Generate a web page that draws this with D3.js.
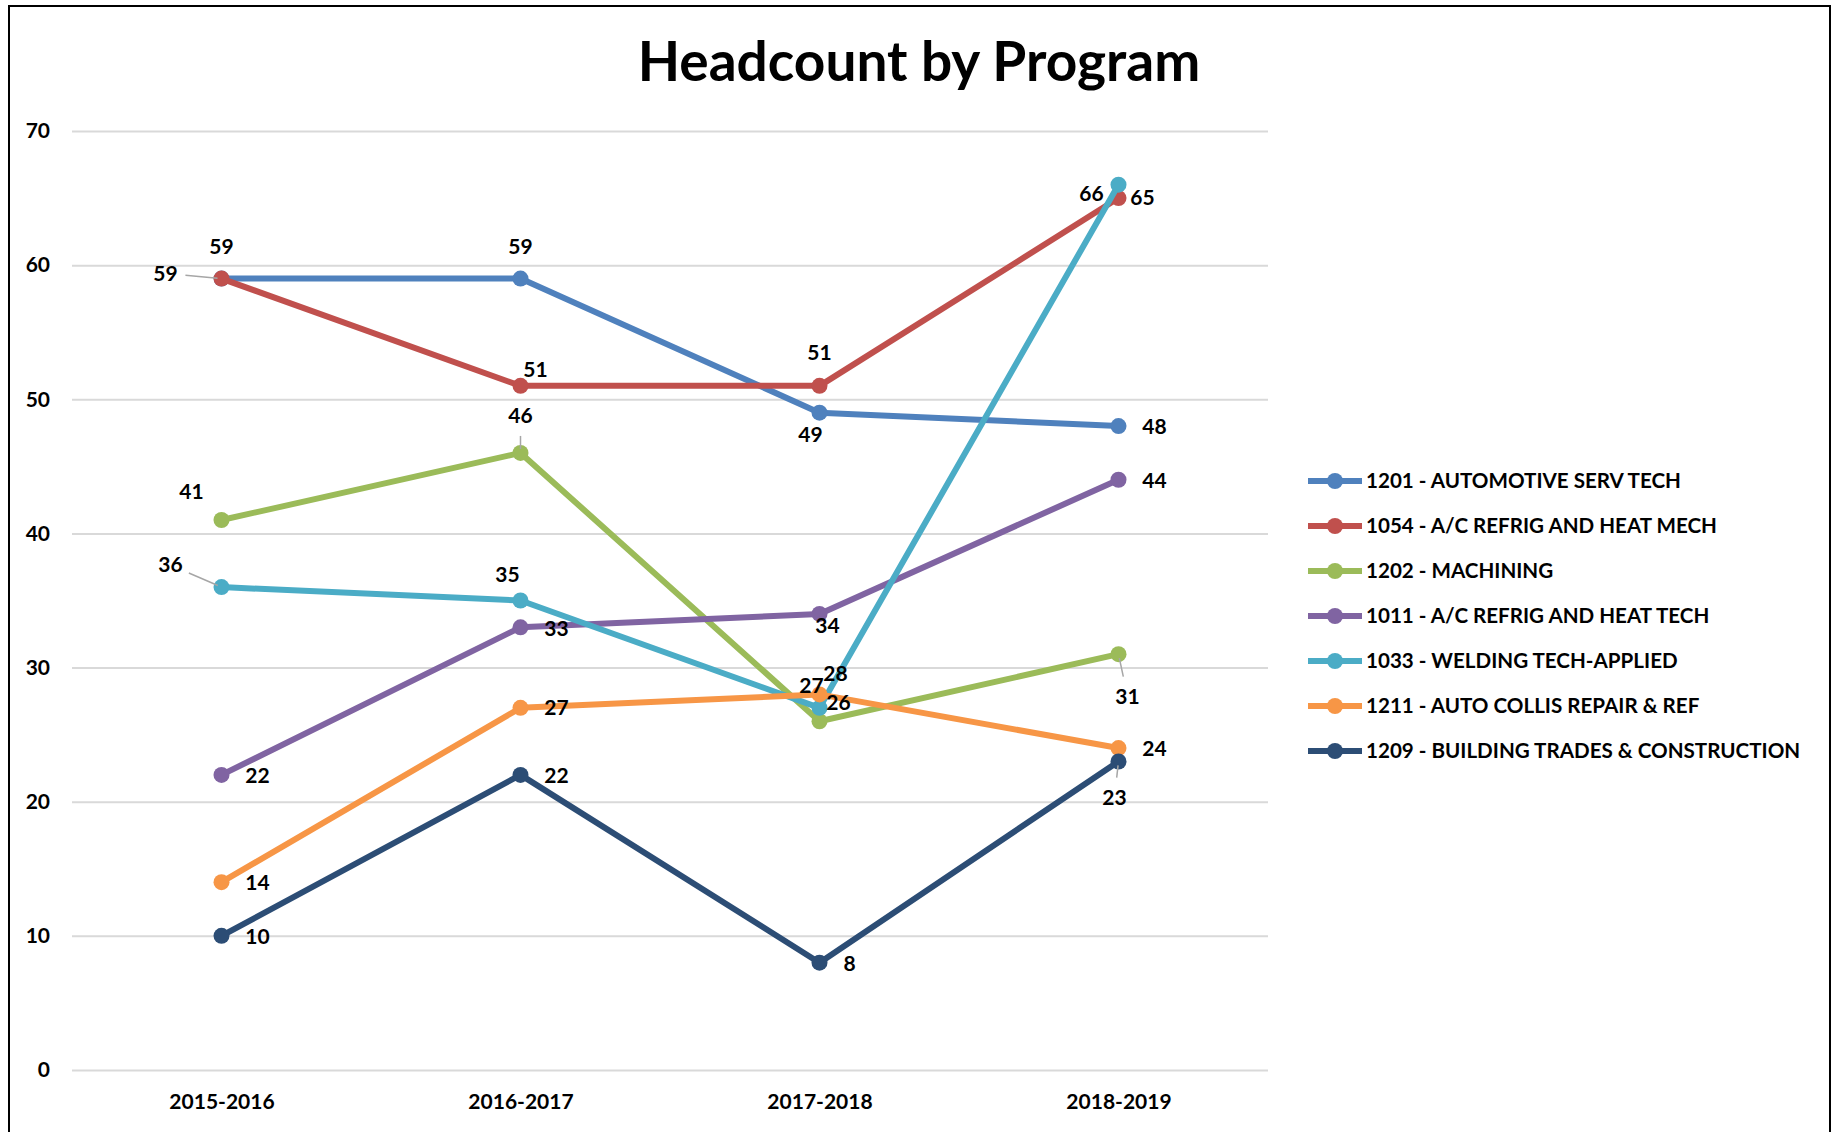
<!DOCTYPE html>
<html>
<head>
<meta charset="utf-8">
<script src="https://cdn.jsdelivr.net/npm/d3@7"></script>
<style>
  body { margin: 0; background: #fff; }
  svg text { font-family: Lato, "Open Sans", sans-serif; font-weight: bold; fill: #000; }
</style>
</head>
<body>
<div id="chart"></div>
<script>
// data
var years = ["2015-2016", "2016-2017", "2017-2018", "2018-2019"];
var programs = [
  "1201 - AUTOMOTIVE SERV TECH",
  "1054 - A/C REFRIG AND HEAT MECH",
  "1202 - MACHINING",
  "1011 - A/C REFRIG AND HEAT TECH",
  "1033 - WELDING TECH-APPLIED",
  "1211 - AUTO COLLIS REPAIR & REF",
  "1209 - BUILDING TRADES & CONSTRUCTION"
];
var automotive = [59, 59, 49, 48];
var acMech     = [59, 51, 51, 65];
var machining  = [41, 46, 26, 31];
var acTech     = [22, 33, 34, 44];
var welding    = [36, 35, 27, 66];
var collision  = [14, 27, 28, 24];
var building   = [10, 22, 8, 23];
var yTicks = [0, 10, 20, 30, 40, 50, 60, 70];

var seriesValues = [automotive, acMech, machining, acTech, welding, collision, building];
var colors = ["#4F81BD", "#C0504D", "#9BBB59", "#8064A2", "#4BACC6", "#F79646", "#2C4D75"];

// label offsets from each point (px), [dx, dy, leader?]
var labelOffsets = [
  [[0, -32], [0, -32], [-9, 22], [36, 1]],
  [[-56, -5, 1], [15, -16], [0, -33], [24, 0]],
  [[-30, -28], [0, -37, 1], [19, -19], [9, 42, 1]],
  [[36, 1], [36, 1], [8, 12], [36, 1]],
  [[-51, -22, 1], [-13, -26], [-8, -22], [-27, 9]],
  [[36, 0], [36, 0], [16, -21], [36, 1]],
  [[36, 1], [36, 1], [30, 1], [-4, 36, 1]]
];

var W = 1833, H = 1132;
var margin = {top: 131, left: 72, right: W - 1268, bottom: H - 1070};
var width = W - margin.left - margin.right;
var height = H - margin.top - margin.bottom;

var svg = d3.select("#chart").append("svg")
  .attr("width", W).attr("height", H);

// frame
svg.append("path")
  .attr("d", "M9," + H + "V6H1830V" + H)
  .attr("fill", "none").attr("stroke", "#000").attr("stroke-width", 2);

// title
svg.append("text")
  .attr("x", 919).attr("y", 81)
  .attr("text-anchor", "middle")
  .style("font-size", "55px")
  .text("Headcount by Program");

var g = svg.append("g").attr("transform", "translate(" + margin.left + "," + margin.top + ")");

var xScale = d3.scalePoint().domain(years).range([0, width]).padding(0.5);
var yScale = d3.scaleLinear().domain([0, 70]).range([height, 0]);

// gridlines + y axis
var yAxis = d3.axisLeft(yScale).tickValues(yTicks).tickSize(-width).tickPadding(22);
g.append("g").attr("class", "y axis").call(yAxis)
  .call(function (a) {
    a.select(".domain").remove();
    a.selectAll(".tick line").attr("stroke", "#D9D9D9").attr("stroke-width", 2);
    a.selectAll(".tick text").style("font-size", "21px");
  });

// x axis
var xAxis = d3.axisBottom(xScale).tickSize(0).tickPadding(24);
g.append("g").attr("class", "x axis")
  .attr("transform", "translate(0," + height + ")")
  .call(xAxis)
  .call(function (a) {
    a.select(".domain").remove();
    a.selectAll(".tick text").style("font-size", "21px");
  });

var line = d3.line()
  .x(function (d, i) { return xScale(years[i]); })
  .y(function (d) { return yScale(d); });

seriesValues.forEach(function (vals, s) {
  var sg = g.append("g").attr("class", "series");
  sg.append("path")
    .attr("d", line(vals))
    .attr("fill", "none")
    .attr("stroke", colors[s])
    .attr("stroke-width", 6)
    .attr("stroke-linejoin", "round");
  sg.selectAll("circle")
    .data(vals)
    .enter()
  .append("circle")
    .attr("cx", function (d, i) { return xScale(years[i]); })
    .attr("cy", function (d) { return yScale(d); })
    .attr("r", 8)
    .attr("fill", colors[s]);
});

// data labels drawn on top
seriesValues.forEach(function (vals, s) {
  vals.forEach(function (v, i) {
    var off = labelOffsets[s][i];
    var px = xScale(years[i]), py = yScale(v);
    var lx = px + off[0], ly = py + off[1];
    if (off[2]) {
      // short leader line from label towards the point
      var dx = px - lx, dy = py - ly;
      var len = Math.sqrt(dx * dx + dy * dy);
      var start = Math.min(len - 6, 20);
      g.append("line")
        .attr("x1", lx + dx / len * start).attr("y1", ly + dy / len * start)
        .attr("x2", px - dx / len * 4).attr("y2", py - dy / len * 4)
        .attr("stroke", "#A6A6A6").attr("stroke-width", 1.5);
    }
    g.append("text")
      .attr("x", lx).attr("y", ly)
      .attr("dy", "0.35em")
      .attr("text-anchor", "middle")
      .style("font-size", "21px")
      .text(v);
  });
});

// legend
var legend = svg.append("g").attr("transform", "translate(1308,481)");
programs.forEach(function (name, s) {
  var row = legend.append("g").attr("transform", "translate(0," + (s * 45) + ")");
  row.append("line").attr("x1", 0).attr("x2", 54).attr("y1", 0).attr("y2", 0)
    .attr("stroke", colors[s]).attr("stroke-width", 6);
  row.append("circle").attr("cx", 27).attr("cy", 0).attr("r", 8).attr("fill", colors[s]);
  row.append("text").attr("x", 58).attr("y", 0).attr("dy", "0.35em")
    .style("font-size", "20.6px").text(name);
});
</script>
</body>
</html>
